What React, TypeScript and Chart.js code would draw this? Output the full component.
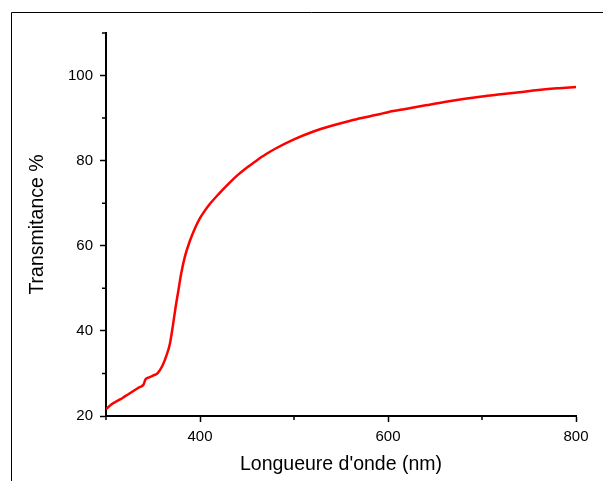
import React, { useEffect, useRef } from "react";
import { Chart, registerables } from "chart.js";

Chart.register(...registerables);

const wavelengths = [
  300, 305, 310, 315, 320, 325, 330, 335, 340, 342, 345, 350, 355, 360, 364, 368, 371, 374, 377, 380,
  384, 389, 395, 400, 405, 410, 420, 430, 440, 450, 460, 470, 480, 500, 520, 540, 560, 580, 600,
  620, 640, 660, 680, 700, 720, 740, 760, 780, 800,
];
const transmittance = [
  21.6, 22.6, 23.3, 23.9, 24.6, 25.3, 26.0, 26.7, 27.4, 28.6, 29.0, 29.5, 30.1, 31.8, 34.0, 37.0, 41.0, 45.5, 49.5, 53.5,
  57.5, 61.0, 64.3, 66.5, 68.2, 69.7, 72.2, 74.5, 76.6, 78.4, 80.0, 81.5, 82.8, 85.0, 86.8, 88.2, 89.4, 90.4, 91.4,
  92.2, 93.0, 93.8, 94.5, 95.1, 95.6, 96.1, 96.6, 97.0, 97.3,
];
const xMajorTicks = [400, 600, 800];
const xMinorTicks = [300, 500, 700];
const yMajorTicks = [20, 40, 60, 80, 100];
const yMinorTicks = [30, 50, 70, 90, 110];

const FONT = "'Liberation Sans', Arial, sans-serif";

const decorPlugin = {
  id: "decor",
  beforeDraw(chart: any) {
    const ctx = chart.ctx;
    ctx.save();
    ctx.strokeStyle = "#000";
    ctx.lineWidth = 1;
    ctx.beginPath();
    ctx.moveTo(3.5, chart.height);
    ctx.lineTo(3.5, 4.5);
    ctx.lineTo(chart.width, 4.5);
    ctx.stroke();
    ctx.restore();
  },
  afterDraw(chart: any) {
    const ctx = chart.ctx;
    const xs = chart.scales.x;
    const ys = chart.scales.y;
    ctx.save();
    ctx.strokeStyle = "#000";
    ctx.lineWidth = 1.5;
    ctx.beginPath();
    for (const v of xMinorTicks) {
      const px = xs.getPixelForValue(v);
      ctx.moveTo(px, ys.bottom);
      ctx.lineTo(px, ys.bottom + 4);
    }
    for (const v of yMinorTicks) {
      const py = ys.getPixelForValue(v);
      ctx.moveTo(xs.left, py);
      ctx.lineTo(xs.left - 4, py);
    }
    ctx.stroke();
    ctx.restore();
  },
};

export default function App() {
  const ref = useRef<HTMLCanvasElement | null>(null);
  useEffect(() => {
    if (!ref.current) return;
    const chart = new Chart(ref.current, {
      type: "line",
      data: {
        datasets: [
          {
            data: wavelengths.map((w, i) => ({ x: w, y: transmittance[i] })),
            borderColor: "#ff0000",
            borderWidth: 2.5,
            pointRadius: 0,
            cubicInterpolationMode: "monotone",
            fill: false,
          },
        ],
      },
      options: {
        animation: false,
        responsive: false,
        events: [],
        layout: { padding: { left: 0, top: 25, right: 35, bottom: 0 } },
        plugins: { legend: { display: false }, tooltip: { enabled: false } },
        scales: {
          x: {
            type: "linear",
            min: 300,
            max: 800,
            afterFit: (s: any) => {
              s.height = 65;
            },
            afterBuildTicks: (s: any) => {
              s.ticks = xMajorTicks.map((v) => ({ value: v }));
            },
            ticks: {
              color: "#000",
              padding: 6,
              maxRotation: 0,
              font: { family: FONT, size: 15 },
            },
            grid: {
              drawOnChartArea: false,
              drawTicks: true,
              tickLength: 6,
              tickColor: "#000",
              tickWidth: 1.5,
            },
            border: { display: true, color: "#000", width: 2 },
            title: {
              display: true,
              text: "Longueure d'onde (nm)",
              color: "#000",
              font: { family: FONT, size: 19.5 },
              padding: { top: 0, bottom: 5 },
            },
          },
          y: {
            type: "linear",
            min: 20,
            max: 110,
            afterFit: (s: any) => {
              s.width = 98;
            },
            afterBuildTicks: (s: any) => {
              s.ticks = yMajorTicks.map((v) => ({ value: v }));
            },
            ticks: {
              color: "#000",
              padding: 7,
              font: { family: FONT, size: 15 },
            },
            grid: {
              drawOnChartArea: false,
              drawTicks: true,
              tickLength: 6,
              tickColor: "#000",
              tickWidth: 1.5,
            },
            border: { display: true, color: "#000", width: 2 },
            title: {
              display: true,
              text: "Transmitance %",
              color: "#000",
              font: { family: FONT, size: 19.5 },
              padding: { top: 18, bottom: 0 },
            },
          },
        },
      },
      plugins: [decorPlugin],
    } as any);
    return () => chart.destroy();
  }, []);
  return (
    <div style={{ width: 603, height: 473 }}>
      <canvas ref={ref} width={603} height={473} style={{ display: "block" }} />
    </div>
  );
}
